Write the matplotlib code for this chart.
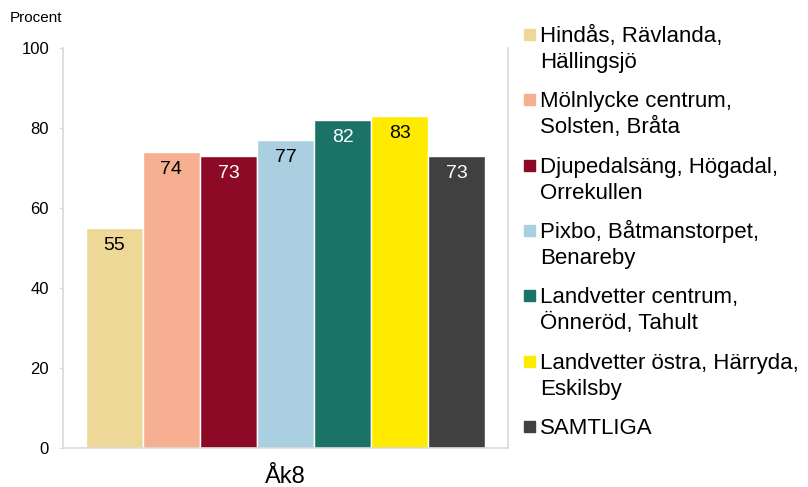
import matplotlib.pyplot as plt
from matplotlib.patches import Rectangle

plt.rcParams['font.family'] = ['Liberation Sans', 'DejaVu Sans']

# Andel per område, åk 8
omraden = [
    'Hindås, Rävlanda,\nHällingsjö',
    'Mölnlycke centrum,\nSolsten, Bråta',
    'Djupedalsäng, Högadal,\nOrrekullen',
    'Pixbo, Båtmanstorpet,\nBenareby',
    'Landvetter centrum,\nÖnneröd, Tahult',
    'Landvetter östra, Härryda,\nEskilsby',
    'SAMTLIGA',
]
varden = [55, 74, 73, 77, 82, 83, 73]
farger = ['#EDD898', '#F6AF91', '#8C0A26', '#AACFE0', '#1B7267', '#FFEB00', '#404040']
textfarg = ['black', 'black', 'white', 'black', 'white', 'black', 'white']
yticks = [0, 20, 40, 60, 80, 100]

W, H = 808, 487
fig = plt.figure(figsize=(W / 100, H / 100), dpi=100)
ax = fig.add_axes([63 / W, 1 - 448 / H, (508 - 63) / W, 400 / H])

x = range(len(varden))
ax.bar(x, varden, width=1.0, color=farger, edgecolor='white', linewidth=1)
for i, v in enumerate(varden):
    ax.text(i, v - 4.5, str(v), ha='center', va='center', fontsize=14, color=textfarg[i])

ax.set_xlim(-0.9, 6.9)
ax.set_ylim(0, 100)
ax.set_yticks(yticks)
ax.set_xticks([3])
ax.set_xticklabels(['Åk8'], fontsize=17)
ax.tick_params(axis='x', length=0, pad=13)
ax.tick_params(axis='y', length=3, color='#D9D9D9', labelsize=12, pad=7)
for s in ['left', 'bottom', 'right']:
    ax.spines[s].set_color('#D9D9D9')
    ax.spines[s].set_linewidth(1.2)
ax.spines['top'].set_visible(False)

fig.text(10 / W, 1 - 18 / H, 'Procent', fontsize=11, va='center', ha='left')

# förklaring till höger (baslinje för första raden i varje post, i pixlar)
baslinjer = [42, 107, 173, 238, 303, 369, 434]
for namn, f, b in zip(omraden, farger, baslinjer):
    fig.patches.append(Rectangle((524 / W, 1 - (b - 2) / H), 11 / W, 11 / H,
                                 transform=fig.transFigure, color=f))
    for k, rad in enumerate(namn.split('\n')):
        fig.text(540 / W, 1 - (b + 26 * k) / H, rad, fontsize=16,
                 va='baseline', ha='left')

fig.savefig('out.png', dpi=100)
